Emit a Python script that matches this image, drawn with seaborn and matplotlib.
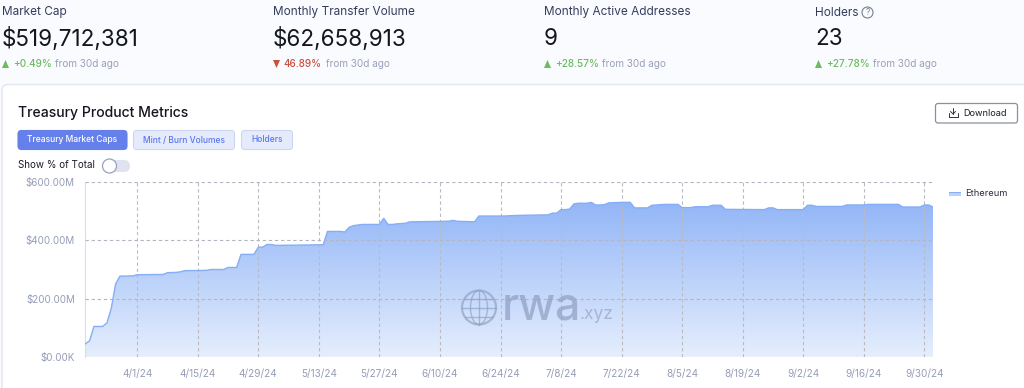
"""Treasury product metrics dashboard panel."""

import matplotlib.dates as mdates
import matplotlib.pyplot as plt
import numpy as np
import pandas as pd
import seaborn as sns
from matplotlib.patches import Circle, Ellipse, FancyBboxPatch, Rectangle

stat_titles = ["Market Cap", "Monthly Transfer Volume", "Monthly Active Addresses", "Holders"]
stat_values = ["$519,712,381", "$62,658,913", "9", "23"]
stat_changes = ["+0.49%", "46.89%", "+28.57%", "+27.78%"]
stat_up = [True, False, True, True]
stat_x = [2, 273, 544, 815]

dates = [
    "2024-03-20", "2024-03-21", "2024-03-22", "2024-03-24", "2024-03-25", "2024-03-26", "2024-03-27",
    "2024-03-28", "2024-03-31", "2024-04-01", "2024-04-07", "2024-04-08", "2024-04-10", "2024-04-11",
    "2024-04-12", "2024-04-17", "2024-04-18", "2024-04-21", "2024-04-22", "2024-04-24", "2024-04-25",
    "2024-04-28", "2024-04-29", "2024-04-30", "2024-05-01", "2024-05-02", "2024-05-03", "2024-05-14",
    "2024-05-15", "2024-05-18", "2024-05-19", "2024-05-20", "2024-05-21", "2024-05-22", "2024-05-23",
    "2024-05-27", "2024-05-28", "2024-05-29", "2024-05-30", "2024-05-31", "2024-06-02", "2024-06-03",
    "2024-06-12", "2024-06-13", "2024-06-14", "2024-06-18", "2024-06-19", "2024-06-25", "2024-06-26",
    "2024-06-28", "2024-07-01", "2024-07-05", "2024-07-06", "2024-07-07", "2024-07-08", "2024-07-09",
    "2024-07-10", "2024-07-11", "2024-07-12", "2024-07-14", "2024-07-15", "2024-07-16", "2024-07-17",
    "2024-07-18", "2024-07-19", "2024-07-20", "2024-07-23", "2024-07-24", "2024-07-25", "2024-07-28",
    "2024-07-29", "2024-07-30", "2024-07-31", "2024-08-01", "2024-08-04", "2024-08-05", "2024-08-07",
    "2024-08-08", "2024-08-11", "2024-08-12", "2024-08-14", "2024-08-15", "2024-08-24", "2024-08-25",
    "2024-08-26", "2024-08-27", "2024-09-02", "2024-09-03", "2024-09-04", "2024-09-05", "2024-09-11",
    "2024-09-12", "2024-09-16", "2024-09-17", "2024-09-24", "2024-09-25", "2024-09-29", "2024-09-30",
    "2024-10-01", "2024-10-02",
]
market_cap = [
    44, 55, 104, 104, 116, 166, 250,
    277, 278, 282, 283, 289, 290, 292,
    296, 297, 300, 300, 307, 307, 352,
    352, 377, 377, 386, 386, 383, 385,
    431, 431, 429, 445, 451, 453, 455,
    455, 476, 455, 455, 457, 459, 464,
    466, 469, 466, 464, 484, 484, 485,
    486, 487, 488, 494, 494, 506, 506,
    508, 526, 528, 528, 531, 522, 522,
    523, 529, 530, 531, 531, 512, 512,
    521, 522, 523, 524, 524, 513, 513,
    516, 516, 521, 521, 507, 506, 512,
    512, 506, 506, 521, 521, 517, 517,
    522, 522, 524, 524, 515, 515, 522,
    522, 515,
]
tick_dates = ["2024-04-01", "2024-04-15", "2024-04-29", "2024-05-13", "2024-05-27", "2024-06-10", "2024-06-24",
              "2024-07-08", "2024-07-22", "2024-08-05", "2024-08-19", "2024-09-02", "2024-09-16", "2024-09-30"]
tick_labels = ["4/1/24", "4/15/24", "4/29/24", "5/13/24", "5/27/24", "6/10/24", "6/24/24",
               "7/8/24", "7/22/24", "8/5/24", "8/19/24", "9/2/24", "9/16/24", "9/30/24"]
y_ticks = [0, 200, 400, 600]
y_labels = ["$0.00K", "$200.00M", "$400.00M", "$600.00M"]

W, H = 1024, 388
GREY = "#959db8"
NAVY = "#353d5c"
GREEN = "#6cbb5f"
RED = "#c9503f"

sns.set_theme(style="white")
plt.rcParams["font.family"] = ["Inter", "DejaVu Sans"]

fig = plt.figure(figsize=(W / 100, H / 100), dpi=100, facecolor="#fafbff")

# page chrome sits behind the chart, in pixel coordinates
bg = fig.add_axes([0, 0, 1, 1], zorder=0)
bg.set_xlim(0, W)
bg.set_ylim(H, 0)
bg.axis("off")
bg.add_patch(FancyBboxPatch((2, 84.5), 1040, 320, boxstyle="round,pad=0,rounding_size=6",
                            fc="white", ec="#e6e9f3", lw=1.2))

for title, value, change, up, x in zip(stat_titles, stat_values, stat_changes, stat_up, stat_x):
    bg.text(x, 12.5, title, fontsize=8.5, color=NAVY, va="center")
    bg.text(x, 39, value, fontsize=16.2, color="#14161f", va="center")
    col = GREEN if up else RED
    tri = [(x, 68), (x + 7, 68), (x + 3.5, 60)] if up else [(x, 60), (x + 7, 60), (x + 3.5, 68)]
    bg.add_patch(plt.Polygon(tri, fc=col, ec="none"))
    t = bg.text(x + 11, 64, change, fontsize=7.2, color=col, va="center", fontweight="medium")
    fig.canvas.draw()
    box = t.get_window_extent()
    bg.text(box.x1 + 3.5, 64, "from 30d ago", fontsize=7.2, color="#9aa1b8", va="center")

bg.add_patch(Circle((867.5, 12.5), 5.5, fc="none", ec="#777d90", lw=0.8))
bg.text(867.5, 12.7, "?", fontsize=6, color="#777d90", ha="center", va="center")

bg.text(17.5, 113.5, "Treasury Product Metrics", fontsize=10.1, color="#14161f", va="center", fontweight="medium")

buttons = [(18, 109, "Treasury Market Caps", "#6580ea", "#6580ea", "white"),
           (133.5, 101, "Mint / Burn Volumes", "#e5ebfb", "#cdd6f2", "#5b78ee"),
           (241.5, 51, "Holders", "#e5ebfb", "#cdd6f2", "#5b78ee")]
for x, w, label, fc, ec, tc in buttons:
    bg.add_patch(FancyBboxPatch((x, 130.5), w, 19, boxstyle="round,pad=0,rounding_size=3.5", fc=fc, ec=ec, lw=0.8))
    bg.text(x + w / 2, 140, label, fontsize=6.1, color=tc, ha="center", va="center", fontweight="medium")

bg.text(17.5, 165.5, "Show % of Total", fontsize=7.1, color="#1b1e2b", va="center")
bg.add_patch(FancyBboxPatch((103, 160), 27, 12, boxstyle="round,pad=0,rounding_size=6", fc="#dfe3ef", ec="none"))
bg.add_patch(Circle((109.5, 166), 7, fc="white", ec="#9ba1bb", lw=0.9))

bg.add_patch(FancyBboxPatch((935.5, 103.5), 82, 19.5, boxstyle="round,pad=0,rounding_size=2.5",
                            fc="white", ec="#8d909c", lw=0.9))
bg.plot([953, 953], [108, 114], color="#333", lw=0.7)
bg.plot([950.5, 953, 955.5], [111.5, 114, 111.5], color="#333", lw=0.7)
bg.plot([948.5, 948.5, 957.5, 957.5], [113, 117, 117, 113], color="#333", lw=0.7)
bg.text(963.5, 113, "Download", fontsize=6.6, color="#1b1e2b", va="center")

# chart
left, right, top, bottom = 85.3, 933, 182.3, 356.7
ax = fig.add_axes([left / W, 1 - bottom / H, (right - left) / W, (bottom - top) / H], zorder=1)
ax.patch.set_alpha(0)

df = pd.DataFrame({"date": pd.to_datetime(dates), "market_cap": market_cap})
x_num = mdates.date2num(df["date"])
sns.lineplot(data=df, x="date", y="market_cap", ax=ax, color="#86aef6", lw=1.0, zorder=3)
area = ax.fill_between(df["date"], df["market_cap"], 0, color="none", lw=0)
grad = np.linspace(0, 1, 256).reshape(-1, 1)
start, end = np.array([0x93, 0xb6, 0xf7]) / 255, np.array([0xe5, 0xee, 0xfd]) / 255
img = start + (end - start) * grad
img = img.reshape(256, 1, 3)
im = ax.imshow(img, extent=[x_num[0], x_num[-1], 0, max(market_cap)], aspect="auto", origin="upper", zorder=2)
im.set_clip_path(area.get_paths()[0], transform=ax.transData)

ax.set_xlim(x_num[0], x_num[-1])
ax.set_ylim(0, 600)
ax.set_xlabel("")
ax.set_ylabel("")
ax.set_xticks(pd.to_datetime(tick_dates), labels=tick_labels)
ax.set_yticks(y_ticks, labels=y_labels)
ax.tick_params(axis="x", length=6.5, width=0.8, color="#b5b8c0", labelsize=7.2, labelcolor=GREY, pad=2.5)
ax.tick_params(axis="y", length=0, labelsize=7.1, labelcolor=GREY, pad=7.5)
ax.xaxis.grid(True, color="#b9bbc1", ls=(0, (3, 2.5)), lw=0.8, zorder=4)
ax.yaxis.grid(True, color="#b3b6c0", ls=(0, (3, 2.5)), lw=0.8, zorder=4)
ax.set_axisbelow(False)
for side in ["top", "right", "bottom"]:
    ax.spines[side].set_visible(False)
ax.spines["left"].set_color("#d5ddf3")
ax.spines["left"].set_linewidth(0.8)

# watermark and legend go on top of the chart
fg = fig.add_axes([0, 0, 1, 1], zorder=2)
fg.set_xlim(0, W)
fg.set_ylim(H, 0)
fg.axis("off")
fg.patch.set_alpha(0)
WM = "#8d9fc2"
gx, gy = 479, 307.5
fg.add_patch(Circle((gx, gy), 17, fc="none", ec=WM, lw=1.6, alpha=0.65))
fg.add_patch(Ellipse((gx, gy), 17, 34, fc="none", ec=WM, lw=1.0, alpha=0.65))
fg.plot([gx, gx], [gy - 17, gy + 17], color=WM, lw=1.0, alpha=0.65)
fg.plot([gx - 17, gx + 17], [gy, gy], color=WM, lw=1.0, alpha=0.65)
fg.plot([gx - 14, gx + 14], [gy - 9, gy - 9], color=WM, lw=1.0, alpha=0.65)
fg.plot([gx - 14, gx + 14], [gy + 9, gy + 9], color=WM, lw=1.0, alpha=0.65)
fg.text(502, 319, "rwa", fontsize=32, color=WM, alpha=0.7, va="baseline", fontweight="medium")
fg.text(580, 319, ".xyz", fontsize=12.5, color=WM, alpha=0.65, va="baseline")

fg.add_patch(Rectangle((949, 191.5), 12, 1.5, fc="#86aef6", ec="none"))
fg.add_patch(Rectangle((949, 193), 12, 3, fc="#bcd2fa", ec="none"))
fg.text(965, 193.5, "Ethereum", fontsize=6.7, color="#2a2e3f", va="center")

fig.savefig("out.png", dpi=100, facecolor=fig.get_facecolor())
